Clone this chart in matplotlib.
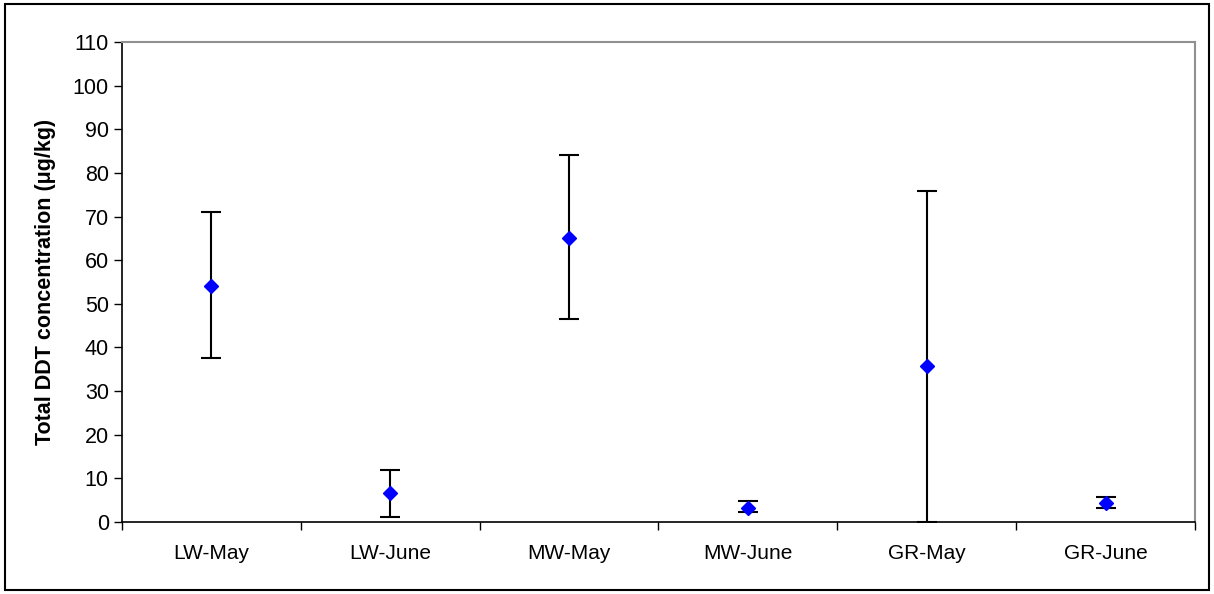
import matplotlib
matplotlib.use("Agg")
import matplotlib.pyplot as plt
from matplotlib.patches import Rectangle
import numpy as np

plt.rcParams["font.family"] = ["Liberation Sans", "DejaVu Sans"]

categories = ["LW-May", "LW-June", "MW-May", "MW-June", "GR-May", "GR-June"]
ddt_mean = [54.0, 6.6, 65.1, 3.3, 35.8, 4.4]
ddt_upper = [71.0, 11.9, 84.2, 4.8, 75.9, 5.7]
ddt_lower = [37.6, 1.2, 46.5, 2.3, 0.0, 3.2]

x = np.arange(len(categories))
mean = np.array(ddt_mean)
yerr = np.vstack([mean - np.array(ddt_lower), np.array(ddt_upper) - mean])

fig = plt.figure(figsize=(12.14, 5.94), dpi=100)
fig.patches.append(Rectangle((5 / 1214, 4 / 594), 1204 / 1214, 586 / 594,
                             transform=fig.transFigure, fill=False,
                             edgecolor="black", lw=1.5))
ax = fig.add_axes([122 / 1214, 72 / 594, 1073 / 1214, 480 / 594])

ax.errorbar(x, mean, yerr=yerr, fmt="D", color="blue", markersize=7,
            ecolor="black", elinewidth=1.5, capsize=7, capthick=1.5, zorder=3)

ax.set_xlim(-0.5, len(categories) - 0.5)
ax.set_ylim(0, 110)
ax.set_yticks(np.arange(0, 111, 10))
ax.set_xticks(x)
ax.set_xticklabels(categories, fontsize=15)
ax.set_xticks(np.arange(-0.5, len(categories), 1), minor=True)
ax.tick_params(axis="x", which="major", length=0, pad=16)
ax.tick_params(axis="x", which="minor", length=6, direction="out", width=1)
ax.tick_params(axis="y", labelsize=15.5, length=6, direction="out", width=1)

ax.spines["left"].set_color("black")
ax.spines["bottom"].set_color("black")
ax.spines["left"].set_linewidth(1.2)
ax.spines["bottom"].set_linewidth(1.2)
ax.spines["top"].set_color("#909090")
ax.spines["right"].set_color("#909090")
ax.spines["top"].set_linewidth(1.5)
ax.spines["right"].set_linewidth(1.5)

ax.set_ylabel("Total DDT concentration (μg/kg)", fontsize=15.5, fontweight="bold",
              labelpad=12)

fig.savefig("out.png", dpi=100)
